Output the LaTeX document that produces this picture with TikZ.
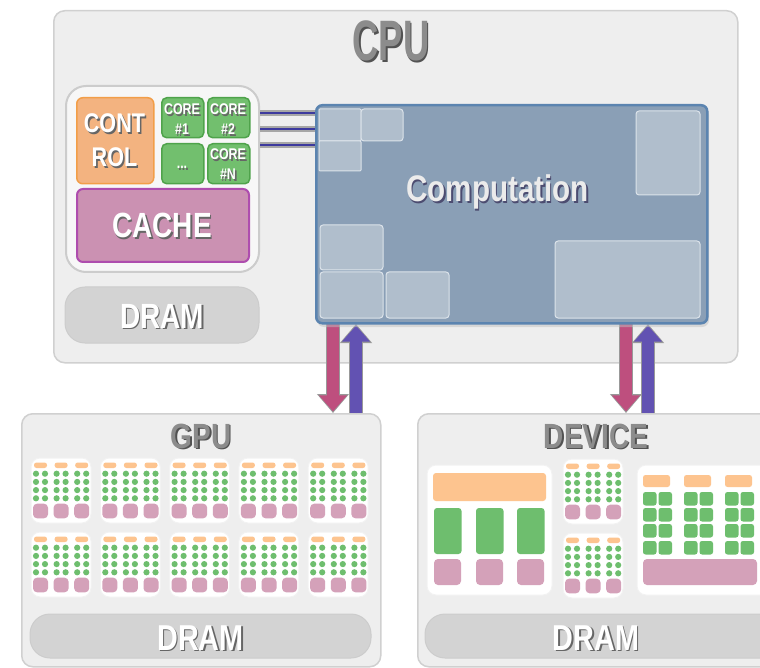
\documentclass[tikz,border=0pt]{standalone}
\usepackage{fontspec}
\usetikzlibrary{calc, arrows.meta}

\newfontfamily\lblfont{Liberation Sans Bold}[FakeStretch=0.8]
\newfontfamily\cpufont{Liberation Sans Bold}[FakeStretch=0.64]

\definecolor{panelfill}{HTML}{EEEEEE}
\definecolor{panelline}{HTML}{D0D0D0}
\definecolor{ctrlfill}{HTML}{F3B380}
\definecolor{ctrlline}{HTML}{F29E48}
\definecolor{alufill}{HTML}{72BF6E}
\definecolor{aluline}{HTML}{4FA34B}
\definecolor{cachefill}{HTML}{CB91B2}
\definecolor{cacheline}{HTML}{AE4DAE}
\definecolor{compfill}{HTML}{8A9FB6}
\definecolor{compline}{HTML}{5B84B0}
\definecolor{tilefill}{HTML}{B0BECC}
\definecolor{tileline}{HTML}{DCE3EA}
\definecolor{dramfill}{HTML}{D3D3D3}
\definecolor{smctrl}{HTML}{FDC48F}
\definecolor{smalu}{HTML}{6EBE6E}
\definecolor{smcache}{HTML}{D4A1B9}
\definecolor{dnarrow}{HTML}{BE4F7E}
\definecolor{uparrow}{HTML}{6252B2}
\definecolor{linkblue}{HTML}{3D3A9E}
\colorlet{lblshade}{black!60}
\colorlet{ttlshade}{black!68}
\colorlet{compshade}{black!65!blue!40!gray}

\tikzset{
    fs/.style={font=\lblfont\fontsize{#1}{#1}\selectfont},
    % white labels, grey titles, light text on the computation area
    lbl/.style={text=white, anchor=base, inner sep=0pt},
    ttl/.style={text=black!45, anchor=base, inner sep=0pt},
    comp/.style={text=black!8, anchor=base, inner sep=0pt},
    panel/.style={draw=panelline, fill=panelfill, line width=1.5pt,
        rounded corners=11pt, anchor=north west, inner sep=0pt},
    dram/.style={fill=dramfill, draw=black!20, line width=1pt, rounded corners=20pt},
    corebox/.style={draw=aluline, fill=alufill, line width=1.5pt, rounded corners=5pt,
        minimum width=42, minimum height=40, anchor=north west, inner sep=0pt},
    tile/.style={draw=tileline, fill=tilefill, line width=1pt, rounded corners=3pt},
    block/.style={fill=white, draw=black!5, line width=1pt, rounded corners=9pt},
    link out/.style={draw=black!35, line width=5.5pt},
    link in/.style={draw=linkblue, line width=2.6pt},
    bus out/.style={draw=black!40, line width=14.5pt,
        -{Triangle[width=31pt, length=19pt]}},
    bus in/.style={line width=11.5pt, shorten >=1.6pt,
        -{Triangle[width=27pt, length=16pt]}},
    sm/.pic={
        \fill[block] (0,0) rectangle (60,65);
        \foreach \c in {0,1,2} {
            \pgfmathsetmacro\cx{9.5+20.6*\c}
            \fill[smctrl, rounded corners=2.5pt] (\cx-6.5,4.5) rectangle (\cx+6.5,10);
            \foreach \r in {0,...,3} {
                \fill[smalu] (\cx-4.5,15.7+8.2*\r) circle (3.1);
                \fill[smalu] (\cx+4.5,15.7+8.2*\r) circle (3.1);
            }
            \fill[smcache, rounded corners=4pt] (\cx-7.5,45.7) rectangle (\cx+7.5,60.3);
        }
    },
}

% drop shadow behind a text, in the same box
\newcommand\dropshade[2]{%
    \makebox[0pt][l]{\kern1.6pt\raisebox{-1.9pt}{\textcolor{#1}{#2}}}#2}
% style, size, name, position, text
\newcommand\embtext[5]{%
    \node[#1, fs=#2] (#3) at (#4) {\dropshade{#1shade}{#5}};
}

\begin{document}
\begin{tikzpicture}[x=1pt, y=-1pt]

    \fill[white] (0,0) rectangle (760,668);
    \useasboundingbox (0,0) rectangle (760,668);

    % ---- panels ----
    \node[panel, minimum width=684, minimum height=352] (cpu) at (53,10) {};
    \node[panel, minimum width=359, minimum height=253] (gpu) at (21,413) {};
    \node[panel, minimum width=362, minimum height=253] (dev) at (417,413) {};

    \embtext{ttl}{57}{cputitle}{391,61}{\cpufont CPU}
    \embtext{ttl}{35}{gputitle}{201,448}{GPU}
    \embtext{ttl}{35}{devtitle}{596,448}{DEVICE}

    % ---- CPU cores group ----
    \node[draw=black!20, fill=black!3, line width=2pt, rounded corners=20pt,
        minimum width=193, minimum height=186, anchor=north west] (grp) at (65,85) {};
    \node[draw=ctrlline, fill=ctrlfill, line width=1.5pt, rounded corners=6pt,
        minimum width=77, minimum height=86, anchor=north west] (ctrl) at (76,97) {};
    \node[corebox] (core1) at (161,97) {};
    \node[corebox] (core2) at (207,97) {};
    \node[corebox] (coreD) at (161,143) {};
    \node[corebox] (coreN) at (207,143) {};
    \node[draw=cacheline, fill=cachefill, line width=2pt, rounded corners=6pt,
        minimum width=172, minimum height=73, anchor=north west] (cache) at (76,188) {};
    \fill[dram] (65,287) rectangle (259,343);

    \embtext{lbl}{27}{ctrlA}{114.5,133}{CONT}
    \embtext{lbl}{27}{ctrlB}{114.5,167}{ROL}
    \embtext{lbl}{15.5}{c1a}{182,115}{CORE}
    \embtext{lbl}{15.5}{c1b}{182,135}{\#1}
    \embtext{lbl}{15.5}{c2a}{228,115}{CORE}
    \embtext{lbl}{15.5}{c2b}{228,135}{\#2}
    \embtext{lbl}{15.5}{cda}{182,169}{...}
    \embtext{lbl}{15.5}{cna}{228,160}{CORE}
    \embtext{lbl}{15.5}{cnb}{228,180}{\#N}
    \embtext{lbl}{35}{cachelbl}{162,238}{CACHE}
    \embtext{lbl}{35}{cpudram}{162,328}{DRAM}

    % ---- buses between computation and the devices ----
    \coordinate (b1) at (333,0);
    \coordinate (b2) at (356,0);
    \coordinate (b3) at (626,0);
    \coordinate (b4) at (648,0);
    \draw[bus out] (b1 |- 0,320) -- (b1 |- gpu.north);
    \draw[bus in, draw=dnarrow, fill=dnarrow] (b1 |- 0,320) -- (b1 |- gpu.north);
    \draw[bus out] (b2 |- gpu.north) -- (b2 |- 0,324);
    \draw[bus in, draw=uparrow, fill=uparrow] (b2 |- gpu.north) -- (b2 |- 0,324);
    \draw[bus out] (b3 |- 0,320) -- (b3 |- dev.north);
    \draw[bus in, draw=dnarrow, fill=dnarrow] (b3 |- 0,320) -- (b3 |- dev.north);
    \draw[bus out] (b4 |- dev.north) -- (b4 |- 0,324);
    \draw[bus in, draw=uparrow, fill=uparrow] (b4 |- dev.north) -- (b4 |- 0,324);

    % ---- computation area ----
    \fill[black!25, opacity=0.5, rounded corners=7pt] (317,108) rectangle (709,327);
    \node[draw=compline, fill=compfill, line width=2.5pt, rounded corners=6pt,
        minimum width=391, minimum height=218, anchor=north west] (comp) at (315,104) {};
    \foreach \ly in {113,129,145} {
        \draw[link out] (grp.east |- 0,\ly) -- (comp.west |- 0,\ly);
        \draw[link in] (grp.east |- 0,\ly) -- (comp.west |- 0,\ly);
    }
    \draw[tile, rounded corners=1pt] (319,109) rectangle (361,141);
    \draw[tile] (361,109) rectangle (403,141);
    \draw[tile, rounded corners=1pt] (319,141) rectangle (361,171);
    \draw[tile] (636,111) rectangle (700,195);
    \draw[tile] (320,225) rectangle (383,270);
    \draw[tile] (320,272) rectangle (383,318);
    \draw[tile] (386,272) rectangle (449,318);
    \draw[tile] (555,241) rectangle (700,318);
    \embtext{comp}{37}{complbl}{497.5,202}{Computation}

    % ---- GPU ----
    \foreach \i in {0,...,4} {
        \pic at (31+69.3*\i,458) {sm};
        \pic at (31+69.3*\i,532) {sm};
    }
    \fill[dram] (30,614) rectangle (371,658);
    \embtext{lbl}{36}{gpudram}{200.5,650}{DRAM}

    % ---- device ----
    \fill[block] (427,465) rectangle (552,595);
    \fill[smctrl, rounded corners=3pt] (433,473) rectangle (546,501);
    \foreach \gx in {434,476,517} {
        \fill[smalu, rounded corners=3pt] (\gx,508) rectangle (\gx+27.5,554);
        \fill[smcache, rounded corners=4pt] (\gx,559) rectangle (\gx+27,585);
    }
    \pic at (563,459) {sm};
    \pic at (563,533) {sm};
    \fill[block] (637,465) rectangle (778,595);
    \foreach \gx in {643,684,725} {
        \fill[smctrl, rounded corners=2.5pt] (\gx,475) rectangle (\gx+27,487);
        \foreach \gy in {492,508,524,541} {
            \fill[smalu, rounded corners=2.5pt] (\gx,\gy) rectangle (\gx+13.5,\gy+13.5);
            \fill[smalu, rounded corners=2.5pt] (\gx+15.5,\gy) rectangle (\gx+29,\gy+13.5);
        }
    }
    \fill[smcache, rounded corners=4pt] (643,559) rectangle (757,585);
    \fill[dram] (425,614) rectangle (785,658);
    \embtext{lbl}{36}{devdram}{596,650}{DRAM}

\end{tikzpicture}
\end{document}
